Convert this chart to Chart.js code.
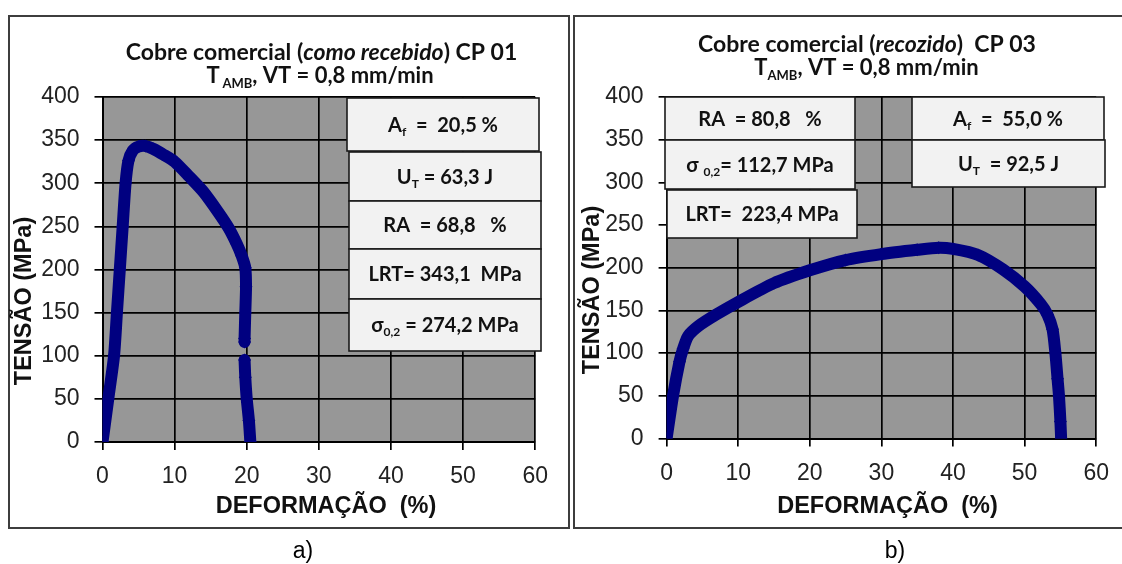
<!DOCTYPE html>
<html>
<head>
<meta charset="utf-8">
<script src="https://cdn.jsdelivr.net/npm/chart.js@4.4.1/dist/chart.umd.min.js"></script>
<style>
    body { margin: 0; background: #fff; width: 1122px; height: 564px; overflow: hidden; position: relative; font-family: "Liberation Sans", Arial, sans-serif; }
    .frame { position: absolute; top: 15px; height: 514px; border: 2px solid #3d3d3d; box-sizing: border-box; }
    #frameA { left: 8px; width: 562px; }
    #frameB { left: 573px; width: 570px; }
    .wrap { position: absolute; top: 0; width: 561px; height: 564px; }
    #wrapA { left: 0; }
    #wrapB { left: 561px; }
    .caption { position: absolute; top: 537px; width: 60px; text-align: center; font-size: 23px; line-height: 26px; color: #000; }
</style>
</head>
<body>
<div class="frame" id="frameA"></div>
<div class="frame" id="frameB"></div>
<div class="wrap" id="wrapA"><canvas id="chartA" width="561" height="564"></canvas></div>
<div class="wrap" id="wrapB"><canvas id="chartB" width="561" height="564"></canvas></div>
<div class="caption" style="left:273px">a)</div>
<div class="caption" style="left:865px">b)</div>

<script>
//  ==================== DATA ====================
// tick values shared by both panels
let strainTicks = [0, 10, 20, 30, 40, 50, 60];
let stressTicks = [0, 50, 100, 150, 200, 250, 300, 350, 400];

// CP 01 - como recebido (null = break in the record)
let cp01Strain = [0, 0.8, 1.6, 2.0, 2.4, 2.8, 3.2, 3.6, 4.2, 5.0, 6.0, 7.0, 8.5, 10, 12, 14, 16, 17.5, 18.6, 19.3, 19.8, 19.9, 19.8, 19.7, 19.7, null, 19.7, 19.8, 20.0, 20.3, 20.5];
let cp01Stress = [0, 50, 100, 150, 200, 250, 300, 326, 338, 342.5, 343.1, 340, 333, 325, 308, 290, 267, 248, 230, 216, 202, 180, 150, 120, 116, null, 95, 75, 50, 25, 0];

// CP 03 - recozido
let cp03Strain = [0, 0.9, 1.8, 2.3, 3.0, 4.5, 6.9, 10, 15, 20, 25, 30, 35, 38, 40, 43.5, 47, 50, 52.3, 53.2, 53.9, 54.3, 54.6, 54.8, 55.0, 55.1];
let cp03Stress = [0, 50, 90, 105, 120, 132, 145, 160, 182, 197, 209, 216, 221, 223.4, 222, 215, 198, 178, 157, 145, 128, 100, 70, 50, 20, 0];

// titles and result boxes ([text, style] runs)
let titleA = [['Cobre comercial (', 'b'], ['como recebido', 'bi'], [') CP 01', 'b']];
let subtitleA = [['T\u2009', 'b'], ['AMB', 'sub'], [', VT = 0,8 mm/min', 'b']];
let titleB = [['Cobre comercial (', 'b'], ['recozido', 'bi'], [')  CP 03', 'b']];
let subtitleB = [['T', 'b'], ['AMB', 'sub'], [', VT = 0,8 mm/min', 'b']];

let notesA = [
    [['A', 'b'], ['f', 'sub'], ['  =  20,5 %', 'b']],
    [['U', 'b'], ['T', 'sub'], [' = 63,3 J', 'b']],
    [['RA  = 68,8   %', 'b']],
    [['LRT= 343,1  MPa', 'b']],
    [['σ', 'b'], ['0,2', 'sub'], [' = 274,2 MPa', 'b']]
];
let notesB = [
    [['RA  = 80,8   %', 'b']],
    [['σ ', 'b'], ['0,2', 'sub'], ['= 112,7 MPa', 'b']],
    [['LRT=  223,4 MPa', 'b']],
    [['A', 'b'], ['f', 'sub'], ['  =  55,0 %', 'b']],
    [['U', 'b'], ['T', 'sub'], ['  = 92,5 J', 'b']]
];

let xTitle = 'DEFORMAÇÃO  (%)';
let yTitle = 'TENSÃO (MPa)';


//  ==================== DRAWING HELPERS ====================
function runFont(kind, size, family){
    if(kind == 'bi') return 'italic bold ' + size + 'px ' + family;
    if(kind == 'sub') return 'bold ' + Math.round(size * 0.6) + 'px ' + family;
    return 'bold ' + size + 'px ' + family;
}

// draws a line of mixed runs centred on cx, baseline at y
function drawRuns(ctx, runs, cx, y, size, family){
    let total = 0;
    let widths = [];
    for (let i = 0; i < runs.length; i++) {
        ctx.font = runFont(runs[i][1], size, family);
        widths.push(ctx.measureText(runs[i][0]).width);
        total += widths[i];
    }
    let x = cx - total / 2;
    ctx.textAlign = 'left';
    ctx.textBaseline = 'alphabetic';
    for (let i = 0; i < runs.length; i++) {
        ctx.font = runFont(runs[i][1], size, family);
        let dy = runs[i][1] == 'sub' ? size * 0.22 : 0;
        ctx.fillText(runs[i][0], x, y + dy);
        x += widths[i];
    }
}

let panelDecor = {
    id: 'panelDecor',
    beforeDraw(chart, args, opts){
        let a = chart.chartArea;
        let ctx = chart.ctx;
        ctx.save();
        ctx.fillStyle = opts.plotColor;
        ctx.fillRect(a.left, a.top, a.right - a.left, a.bottom - a.top);
        ctx.restore();
    },
    afterDraw(chart, args, opts){
        let ctx = chart.ctx;
        ctx.save();
        ctx.fillStyle = '#111';

        // chart title, two lines
        drawRuns(ctx, opts.title, opts.titlePos[0], opts.titlePos[1], 23, 'Lato');
        drawRuns(ctx, opts.subtitle, opts.subtitlePos[0], opts.subtitlePos[1], 22, 'Lato');

        // axis titles
        ctx.font = 'bold 23.5px "Liberation Sans", Arial';
        ctx.textAlign = 'center';
        ctx.textBaseline = 'middle';
        ctx.fillText(xTitle, opts.xTitlePos[0], opts.xTitlePos[1]);
        ctx.save();
        ctx.translate(opts.yTitlePos[0], opts.yTitlePos[1]);
        ctx.rotate(-Math.PI / 2);
        ctx.fillText(yTitle, 0, 0);
        ctx.restore();

        // result boxes
        for (let i = 0; i < opts.notes.length; i++) {
            let b = opts.boxes[i];
            ctx.fillStyle = '#f2f2f2';
            ctx.fillRect(b[0], b[1], b[2] - b[0], b[3] - b[1]);
            ctx.strokeStyle = '#1a1a1a';
            ctx.lineWidth = 1.6;
            ctx.strokeRect(b[0], b[1], b[2] - b[0], b[3] - b[1]);
            ctx.fillStyle = '#111';
            drawRuns(ctx, opts.notes[i], (b[0] + b[2]) / 2, (b[1] + b[3]) / 2 + 7, 20, 'Lato');
        }
        ctx.restore();
    }
};


//  ==================== CHARTS ====================
function makePanel(canvasId, strain, stress, geo, decor){
    let points = [];
    for (let i = 0; i < strain.length; i++) {
        points.push({x: strain[i], y: stress[i]});
    }
    let tickFont = {family: '"Liberation Sans", Arial', size: 23};

    return new Chart(document.getElementById(canvasId), {
        type: 'scatter',
        data: {
            datasets: [{
                data: points,
                showLine: true,
                spanGaps: false,
                tension: 0.25,
                borderColor: '#000080',
                borderWidth: 12,
                borderJoinStyle: 'round',
                borderCapStyle: 'round',
                pointStyle: 'rectRot',
                pointRadius: 6.5,
                pointBorderWidth: 0,
                pointBackgroundColor: '#000080'
            }]
        },
        options: {
            responsive: false,
            animation: false,
            events: [],
            layout: {
                padding: {left: 0, top: geo.top, right: geo.right, bottom: geo.bottom}
            },
            plugins: {
                legend: {display: false},
                tooltip: {enabled: false},
                panelDecor: decor
            },
            scales: {
                x: {
                    type: 'linear',
                    min: 0,
                    max: 60,
                    afterBuildTicks: function(scale){
                        scale.ticks = strainTicks.map(function(v){ return {value: v}; });
                    },
                    afterFit: function(scale){ scale.height = 60; },
                    ticks: {autoSkip: false, maxRotation: 0, padding: 13, color: '#222', font: tickFont},
                    grid: {color: '#000', lineWidth: 1.7, tickLength: 8, tickColor: '#000', tickWidth: 1.7},
                    border: {display: true, color: '#000', width: 2}
                },
                y: {
                    type: 'linear',
                    min: 0,
                    max: 400,
                    afterBuildTicks: function(scale){
                        scale.ticks = stressTicks.map(function(v){ return {value: v}; });
                    },
                    afterFit: function(scale){ scale.width = geo.left; },
                    ticks: {autoSkip: false, padding: 15, color: '#222', font: tickFont},
                    grid: {color: '#000', lineWidth: 1.7, tickLength: 8, tickColor: '#000', tickWidth: 1.7},
                    border: {display: true, color: '#000', width: 2}
                }
            }
        },
        plugins: [panelDecor]
    });
}

// PANEL a) - como recebido
let chartA = makePanel('chartA', cp01Strain, cp01Stress,
    {left: 102.5, top: 97, right: 22, bottom: 62},
    {
        plotColor: '#979797',
        title: titleA, titlePos: [321.5, 60],
        subtitle: subtitleA, subtitlePos: [320, 83],
        xTitlePos: [326, 507], yTitlePos: [25, 301],
        notes: notesA,
        boxes: [[347, 98, 539, 151], [349, 152, 541, 201], [349, 201, 541, 249], [349, 249, 541, 299], [349, 299, 541, 351]]
    });

// PANEL b) - recozido
let chartB = makePanel('chartB', cp03Strain, cp03Stress,
    {left: 105.6, top: 97, right: 19.4, bottom: 65.5},
    {
        plotColor: '#979797',
        title: titleB, titlePos: [306, 51.5],
        subtitle: subtitleB, subtitlePos: [305.5, 75],
        xTitlePos: [326.5, 507], yTitlePos: [32, 290],
        notes: notesB,
        boxes: [[104, 97, 294, 140], [104, 140, 294, 189], [106, 190, 296, 238], [351, 97, 543, 140], [351, 140, 544, 187]]
    });
</script>
</body>
</html>
